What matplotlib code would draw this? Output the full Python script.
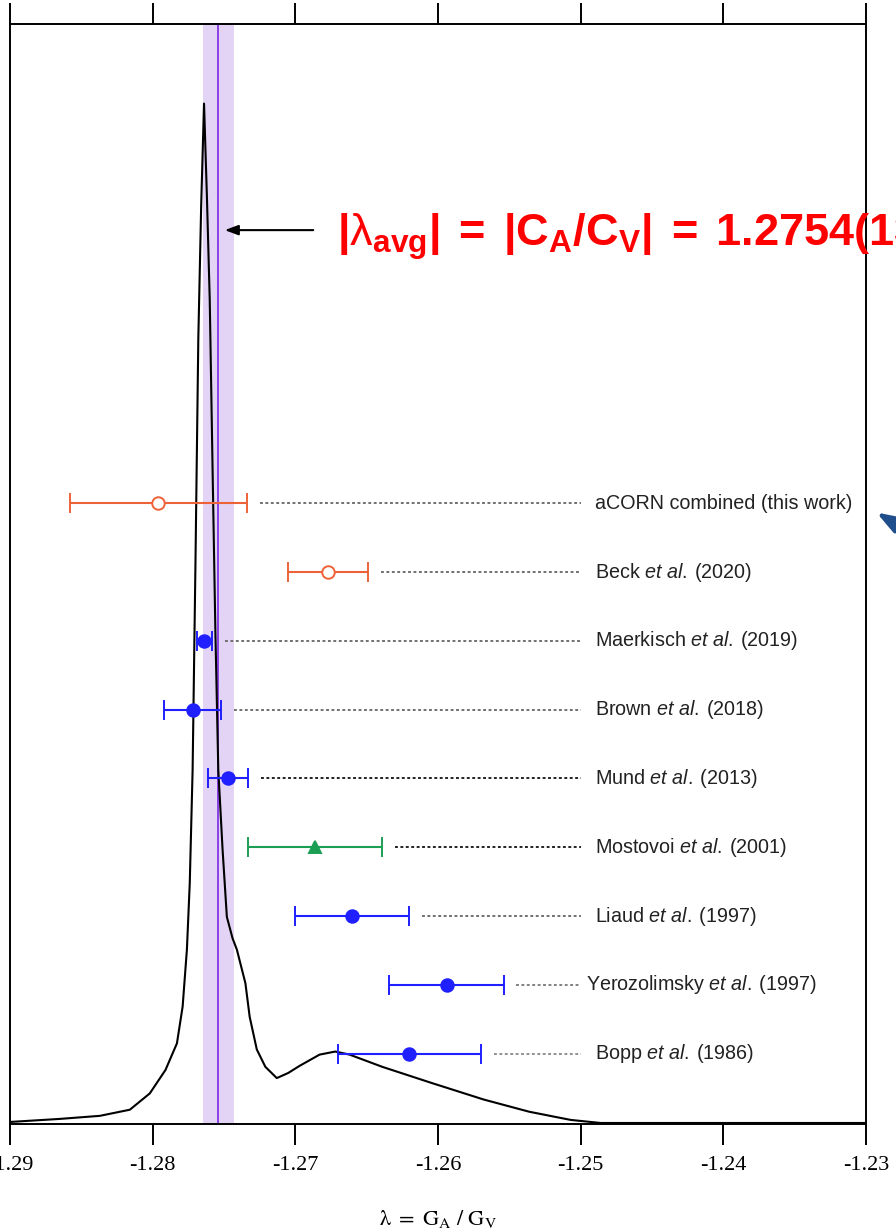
import matplotlib.pyplot as plt

plt.rcParams['mathtext.fontset'] = 'custom'
plt.rcParams['mathtext.rm'] = 'Liberation Sans'
plt.rcParams['mathtext.it'] = 'Liberation Sans:italic'
plt.rcParams['mathtext.bf'] = 'Liberation Sans:bold'
plt.rcParams['axes.unicode_minus'] = False

# combined probability density of lambda (arbitrary units, peak = 100)
lam_x = [-1.2900, -1.2865, -1.2837, -1.2816, -1.2802, -1.2791, -1.2783, -1.2779,
         -1.2776, -1.2774, -1.2772, -1.2770, -1.2768, -1.2766, -1.2764, -1.2762,
         -1.2760, -1.2758, -1.2756, -1.2754, -1.2751, -1.2748, -1.2744, -1.2741,
         -1.2735, -1.2732, -1.2727, -1.2721, -1.2713, -1.2705, -1.2697, -1.2683,
         -1.2672, -1.2662, -1.2639, -1.2604, -1.2568, -1.2536, -1.2507, -1.2486,
         -1.2300]
lam_pdf = [0.2, 0.5, 0.8, 1.4, 3.0, 5.3, 7.9, 11.5,
           17.1, 23.6, 34.7, 55.0, 77.0, 90.0, 100.0, 91.0,
           80.8, 64.1, 48.0, 34.7, 26.9, 20.3, 18.2, 17.1,
           13.8, 10.5, 7.3, 5.6, 4.5, 5.0, 5.7, 6.8,
           7.1, 6.8, 5.6, 4.0, 2.4, 1.2, 0.4, 0.1,
           0.1]

lam_avg = -1.2754
lam_avg_err = 0.0011

labels = ['aCORN combined (this work)',
          r'Beck $\mathit{et\ al.}\:$(2020)',
          r'Maerkisch $\mathit{et\ al.}\:$(2019)',
          r'Brown $\mathit{et\ al.}\:$(2018)',
          r'Mund $\mathit{et\ al.}\:$(2013)',
          r'Mostovoi $\mathit{et\ al.}\:$(2001)',
          r'Liaud $\mathit{et\ al.}\:$(1997)',
          r'Yerozolimsky $\mathit{et\ al.}\:$(1997)',
          r'Bopp $\mathit{et\ al.}\:$(1986)']
values = [-1.2796, -1.2677, -1.27637, -1.2772, -1.2747, -1.2686, -1.2660, -1.2594, -1.2620]
errors = [0.0062, 0.0028, 0.00053, 0.0020, 0.0014, 0.0047, 0.0040, 0.0040, 0.0050]
colors = ['#ee6239', '#ee6239', '#1f1fff', '#1f1fff', '#1f1fff', '#1d9e55',
          '#1f1fff', '#1f1fff', '#1f1fff']
markers = ['o', 'o', 'o', 'o', 'o', '^', 'o', 'o', 'o']
filled = [False, False, True, True, True, True, True, True, True]
dot_colors = ['#666666', '#666666', '#666666', '#666666', '#111111', '#111111',
              '#666666', '#777777', '#888888']

fig = plt.figure(figsize=(8.96, 12.32), dpi=100)
ax = fig.add_axes([10 / 896, 1 - 1124 / 1232, 856 / 896, 1100 / 1232])

ax.axvspan(lam_avg - lam_avg_err, lam_avg + lam_avg_err, color='#e3d3f5', lw=0, zorder=1)
ax.axvline(lam_avg, color='#8a40e6', lw=1.4, zorder=2)
ax.plot(lam_x, lam_pdf, color='black', lw=1.5, zorder=3)

n = len(labels)
for i in range(n):
    y = 6.9 + 6.74 * (n - 1 - i)
    face = colors[i] if filled[i] else 'white'
    ms = 9 if markers[i] == 'o' else 8.5
    ax.errorbar(values[i], y, xerr=errors[i], fmt=markers[i], color=colors[i],
                mfc=face, mec=colors[i], ms=ms, mew=1.4, lw=1.5, capsize=7,
                capthick=1.5, zorder=5)
    ax.plot([values[i] + errors[i] + 0.0009, -1.2500], [y, y], color=dot_colors[i],
            lw=1.3, linestyle=(0, (1.6, 1.4)), zorder=4)
    lx = -1.2496 if i == 7 else -1.2490
    ax.text(lx, y, labels[i], fontsize=14.2, family='Liberation Sans',
            va='center', ha='left', color='#222222')

ax.annotate('', xy=(-1.27514, 87.6), xytext=(-1.26855, 87.6),
            arrowprops=dict(arrowstyle='-|>,head_length=0.8,head_width=0.3',
                            color='black', lw=1.5), zorder=6)
ax.text(-1.2671, 87.0,
        r'$\mathbf{|}\mathrm{\lambda}_{\mathbf{avg}}\mathbf{|\;=\;|C_{A}/C_{V}|\;=\;1.2754(13)}$',
        color='#ff0000', fontsize=32.5, va='center', ha='left', clip_on=False)

ax.annotate('', xy=(874, 721), xycoords='figure pixels', xytext=(906, 702),
            textcoords='figure pixels', annotation_clip=False,
            arrowprops=dict(arrowstyle='-|>,head_length=1.0,head_width=0.35',
                            mutation_scale=14, color='#1f4e8c', lw=3))

ax.set_xlim(-1.29, -1.23)
ax.set_ylim(0, 107.8)
ax.set_xticks([-1.29, -1.28, -1.27, -1.26, -1.25, -1.24, -1.23])
ax.set_xticklabels(['-1.29', '-1.28', '-1.27', '-1.26', '-1.25', '-1.24', '-1.23'],
                   family='Liberation Serif', fontsize=16)
ax.set_yticks([])
ax.tick_params(axis='x', top=True, direction='out', length=15, width=1.4, pad=8)
for s in ax.spines.values():
    s.set_linewidth(1.4)
ax.set_xlabel(r'$\mathrm{\lambda\ =\ G_A\ /\ G_V}$', fontsize=16, labelpad=24,
              math_fontfamily='stix')

plt.savefig('out.png', dpi=100)
